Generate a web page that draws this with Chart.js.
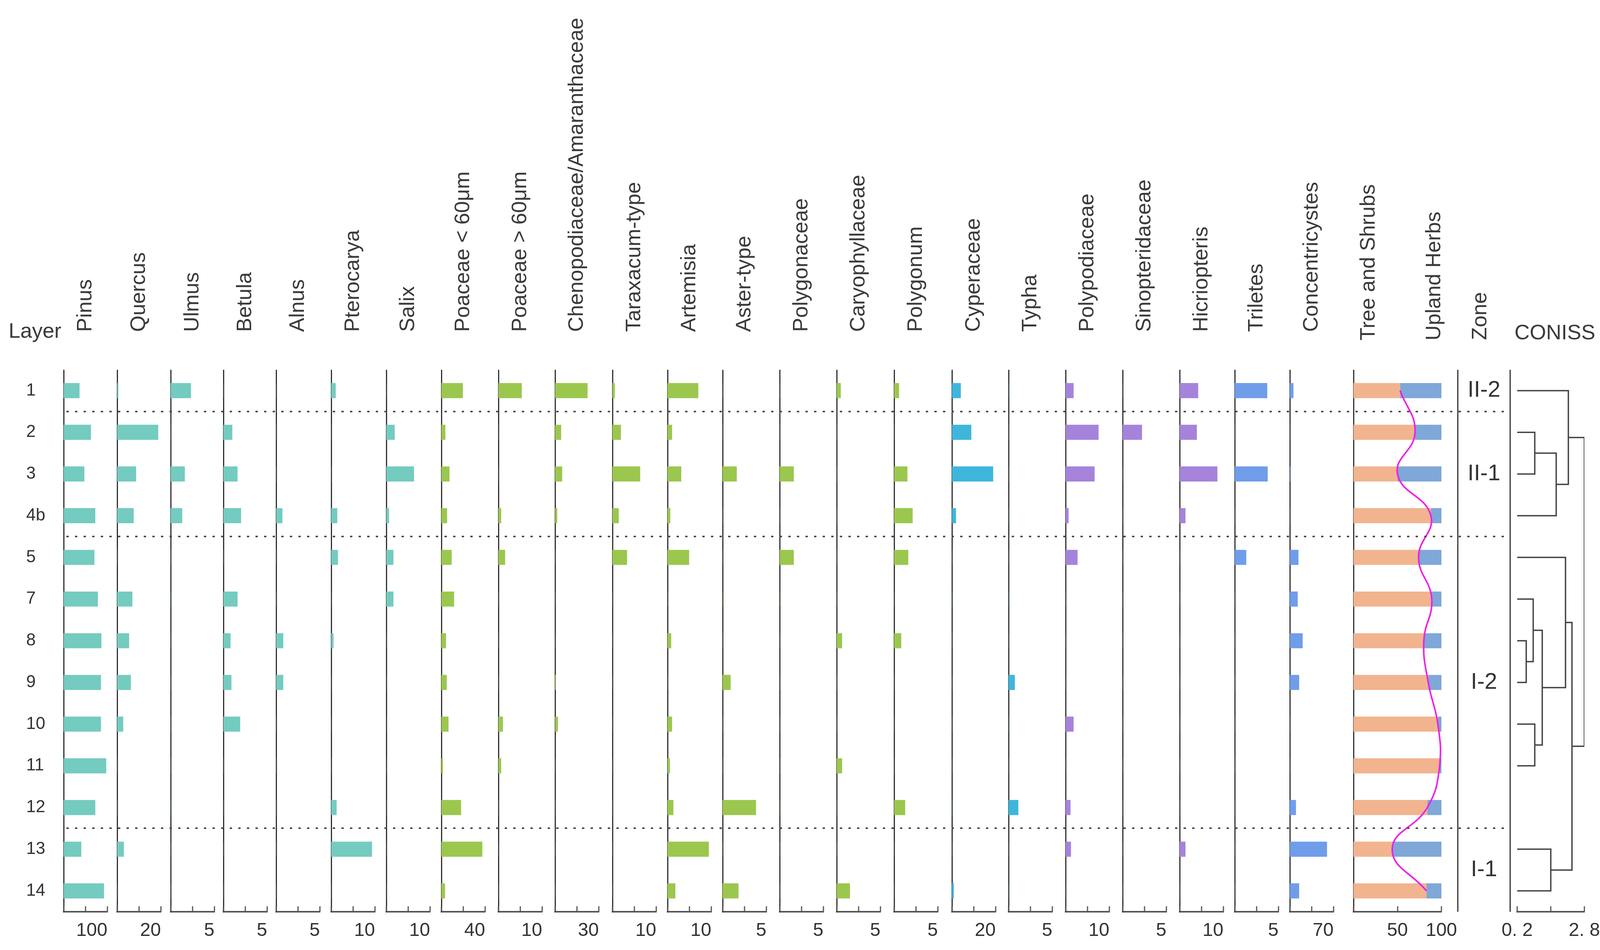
<!DOCTYPE html>
<html>
<head>
<meta charset="utf-8">
<title>Pollen diagram</title>
<script src="https://cdn.jsdelivr.net/npm/chart.js@4.4.1/dist/chart.umd.min.js"></script>
<style>
  html, body { margin: 0; padding: 0; background: #fff; overflow: hidden; }
  #wrap { position: relative; width: 4117px; height: 2433px; overflow: hidden;
          font-family: "Liberation Sans", Arial, sans-serif; color: #3a3a3a; }
  .box { position: absolute; }
  .vlab { position: absolute; white-space: nowrap; font-size: 54px; line-height: 54px;
          transform: rotate(-90deg); transform-origin: left top; }
  .hlab { position: absolute; white-space: nowrap; font-size: 54px; line-height: 54px; }
</style>
</head>
<body>
<div id="wrap"></div>
<script>
// layers, top to bottom
const layers = ["1", "2", "3", "4b", "5", "7", "8", "9", "10", "11", "12", "13", "14"];

const taxa = ["Pinus", "Quercus", "Ulmus", "Betula", "Alnus", "Pterocarya", "Salix",
  "Poaceae < 60μm", "Poaceae > 60μm", "Chenopodiaceae/Amaranthaceae", "Taraxacum-type",
  "Artemisia", "Aster-type", "Polygonaceae", "Caryophyllaceae", "Polygonum",
  "Cyperaceae", "Typha", "Polypodiaceae", "Sinopteridaceae", "Hicriopteris",
  "Triletes", "Concentricystes"];
const axisMax = [100, 20, 5, 5, 5, 10, 10, 40, 10, 30, 10, 10, 5, 5, 5, 5, 20, 5, 10, 5, 10, 5, 70];
const taxonGroup = ["tree", "tree", "tree", "tree", "tree", "tree", "tree",
  "herb", "herb", "herb", "herb", "herb", "herb", "herb", "herb", "herb",
  "wet", "wet", "fern", "fern", "fern", "other", "other"];

// percentages per layer
const pinus        = [36, 62, 47, 72, 70, 78, 86, 85, 85, 97, 72, 40, 92];
const quercus      = [0.5, 18.7, 8.6, 7.5, 0, 6.9, 5.4, 6.2, 2.7, 0, 0, 3.0, 0];
const ulmus        = [2.3, 0, 1.6, 1.3, 0, 0, 0, 0, 0, 0, 0, 0, 0];
const betula       = [0, 1.0, 1.6, 2.0, 0, 1.6, 0.8, 0.9, 1.9, 0, 0, 0, 0];
const alnus        = [0, 0, 0, 0.7, 0, 0, 0.8, 0.8, 0, 0, 0, 0, 0];
const pterocarya   = [1.0, 0, 0, 1.35, 1.5, 0, 0.5, 0, 0, 0, 1.2, 9.3, 0];
const salix        = [0, 1.9, 6.3, 0.6, 1.6, 1.6, 0, 0, 0, 0, 0, 0, 0];
const poaceaeSmall = [19.5, 3.5, 7.3, 5.1, 9.3, 11.5, 4.1, 4.8, 6.4, 1.3, 17.9, 37.3, 3.2];
const poaceaeLarge = [5.3, 0, 0, 0.6, 1.5, 0, 0, 0, 1.0, 0.6, 0, 0, 0];
const chenopod     = [22.2, 4.1, 4.8, 1.4, 0, 0, 0, 0.4, 1.9, 0, 0, 0, 0];
const taraxacum    = [0.5, 1.9, 6.3, 1.4, 3.3, 0, 0, 0, 0, 0, 0, 0, 0];
const artemisia    = [7.0, 1.0, 3.1, 0.6, 4.9, 0, 0.8, 0, 1.0, 0.5, 1.3, 9.4, 1.75];
const aster        = [0, 0, 1.6, 0, 0, 0, 0, 0.9, 0, 0, 3.8, 0, 1.8];
const polygonaceae = [0, 0, 1.6, 0, 1.6, 0, 0, 0, 0, 0, 0, 0, 0];
const caryophyll   = [0.45, 0, 0, 0, 0, 0, 0.6, 0, 0, 0.6, 0, 0, 1.5];
const polygonum    = [0.55, 0, 1.5, 2.1, 1.6, 0, 0.8, 0, 0, 0, 1.25, 0, 0];
const cyperaceae   = [4.0, 8.8, 18.8, 1.8, 0, 0, 0, 0, 0, 0, 0, 0, 0.8];
const typha        = [0, 0, 0, 0, 0, 0, 0, 0.7, 0, 0, 1.1, 0, 0];
const polypodiac   = [1.8, 7.5, 6.6, 0.65, 2.7, 0, 0, 0, 1.8, 0, 1.1, 1.2, 0];
const sinopterid   = [0, 2.2, 0, 0, 0, 0, 0, 0, 0, 0, 0, 0, 0];
const hicriopteris = [4.2, 3.9, 8.6, 1.3, 0, 0, 0, 0, 0, 0, 0, 1.3, 0];
const triletes     = [3.7, 0, 3.75, 0, 1.3, 0, 0, 0, 0, 0, 0, 0, 0];
const concentri    = [5.6, 0, 0.5, 0, 13.6, 12.4, 20.3, 14.7, 0, 0, 9.6, 59.3, 14.7];

const values = [pinus, quercus, ulmus, betula, alnus, pterocarya, salix,
  poaceaeSmall, poaceaeLarge, chenopod, taraxacum, artemisia, aster, polygonaceae,
  caryophyll, polygonum, cyperaceae, typha, polypodiac, sinopterid, hicriopteris,
  triletes, concentri];

// summary panel
const treeShrubs  = [53, 70, 50, 88, 74, 89, 80, 85, 96, 98, 84, 44, 83];
const uplandHerbs = [47, 30, 50, 12, 26, 11, 20, 15, 4, 2, 16, 56, 17];

// zones (number of layers in each, top to bottom)
const zoneNames = ["II-2", "II-1", "I-2", "I-1"];
const zoneRows  = [1, 3, 7, 2];

// CONISS merges: left member, right member, dissimilarity
const conissLeft   = ["2", "n0", "1", "8", "7", "10", "n4", "5", "13", "n8", "n2"];
const conissRight  = ["3", "4b", "n1", "9", "n3", "11", "n5", "n6", "14", "n7", "n9"];
const conissHeight = [0.88, 1.71, 2.18, 0.55, 0.82, 0.88, 1.17, 2.07, 1.50, 2.32, 2.8];
const conissTicks  = [0.2, 1.5, 2.8];
const conissTickLabels = ["0. 2", "", "2. 8"];

// ---------- layout ----------
const FONT = "'Liberation Sans', Arial, sans-serif";
Chart.defaults.font.family = FONT;
Chart.defaults.color = '#333';

const COL = { tree: '#74CBC0', herb: '#9BC74E', wet: '#3EB6DB', fern: '#A683DB', other: '#6F9DEA' };
const TOP = 947, AREA_H = 1388, AXIS_H = 95, PAD = 12;
const panelX = [163, 300, 437, 572, 707, 848, 989, 1130, 1276, 1421, 1568, 1709, 1850,
  1996, 2142, 2289, 2437, 2582, 2728, 2874, 3020, 3161, 3302];
const PANEL_W = 112;
const TREE_X = 3465, TREE_W = 225;
const CONISS_X = 3884, CONISS_W = 172;
const DOT_X0 = 170, DOT_X1 = 3866, ZONE_X0 = 3732, ZONE_X1 = 3866;

const wrap = document.getElementById('wrap');

function addCanvas(left, width, height, z) {
  const d = document.createElement('div');
  d.className = 'box';
  d.style.left = left + 'px';
  d.style.top = TOP + 'px';
  d.style.width = width + 'px';
  d.style.height = (height || AREA_H + AXIS_H) + 'px';
  if (z) { d.style.zIndex = z; d.style.pointerEvents = 'none'; }
  const c = document.createElement('canvas');
  d.appendChild(c);
  wrap.appendChild(d);
  return c;
}

function vLabel(text, cx, bottom) {
  const el = document.createElement('div');
  el.className = 'vlab';
  el.textContent = text;
  el.style.left = (cx - 27) + 'px';
  el.style.top = bottom + 'px';
  wrap.appendChild(el);
}

function hLabel(text, left, top) {
  const el = document.createElement('div');
  el.className = 'hlab';
  el.textContent = text;
  el.style.left = left + 'px';
  el.style.top = top + 'px';
  wrap.appendChild(el);
}

// small tick marks pointing up from the x axis
const upTicks = {
  id: 'upTicks',
  afterDraw(chart) {
    const s = chart.scales.x;
    const ctx = chart.ctx;
    ctx.save();
    ctx.strokeStyle = '#555';
    ctx.lineWidth = 3;
    s.ticks.forEach(t => {
      const px = Math.round(s.getPixelForValue(t.value));
      ctx.beginPath();
      ctx.moveTo(px, s.top);
      ctx.lineTo(px, s.top - 14);
      ctx.stroke();
    });
    ctx.restore();
  }
};

function valueAxis(min, max, tickVals, labels, align) {
  return {
    type: 'linear', min: min, max: max, position: 'bottom',
    afterBuildTicks: s => { s.ticks = tickVals.map(v => ({ value: v })); },
    afterFit: s => { s.height = AXIS_H; s.paddingLeft = 0; s.paddingRight = 0; },
    grid: { display: false, drawTicks: false },
    border: { display: true, color: '#555', width: 4 },
    ticks: {
      align: align, padding: 20, maxRotation: 0, minRotation: 0, autoSkip: false,
      color: '#333', font: { size: 48 },
      callback: (v, i) => labels[i]
    }
  };
}

function layerAxis(width, showLabels) {
  return {
    type: 'category', offset: true, stacked: true,
    afterFit: s => { s.width = width; s.paddingTop = 0; s.paddingBottom = 0; },
    grid: { display: false, drawTicks: false },
    border: { display: true, color: '#2f2f2f', width: 3 },
    ticks: { display: showLabels, crossAlign: 'far', padding: 0, autoSkip: false,
             color: '#333', font: { size: 44 } }
  };
}

function baseOptions(padL, padR, scales) {
  return {
    indexAxis: 'y', responsive: true, maintainAspectRatio: false, animation: false,
    layout: { padding: { left: padL, right: padR, top: 0, bottom: 0 } },
    plugins: { legend: { display: false }, tooltip: { enabled: false } },
    scales: scales
  };
}

// ---------- taxon panels ----------
taxa.forEach((name, i) => {
  const first = i === 0;
  const left = first ? 0 : panelX[i] - PAD;
  const padL = first ? 67 : PAD;
  const yW = first ? panelX[0] - 67 : 0;
  const width = panelX[i] - left + PANEL_W + PAD;
  const max = axisMax[i];
  new Chart(addCanvas(left, width), {
    type: 'bar',
    data: {
      labels: layers,
      datasets: [{ label: name, data: values[i], backgroundColor: COL[taxonGroup[i]],
                   barThickness: 38, borderWidth: 0 }]
    },
    options: baseOptions(padL, PAD, {
      x: valueAxis(0, max, [0, max / 2, max], ['', '', String(max)], 'end'),
      y: layerAxis(yW, first)
    }),
    plugins: [upTicks]
  });
  vLabel(name, panelX[i] + 52, 850);
});

// ---------- trees & shrubs / upland herbs ----------
const treeX = valueAxis(0, 100, [0, 50, 100], ['', '50', '100'], 'center');
treeX.stacked = true;
new Chart(addCanvas(TREE_X - PAD, TREE_W + PAD + 60), {
  type: 'bar',
  data: {
    labels: layers,
    datasets: [
      { type: 'line', label: 'Tree and Shrubs curve', data: treeShrubs, borderColor: '#F01EE6',
        borderWidth: 4, pointRadius: 0, tension: 0.45, fill: false, order: -1 },
      { label: 'Tree and Shrubs', data: treeShrubs, backgroundColor: '#F1B48E', barThickness: 38 },
      { label: 'Upland Herbs', data: uplandHerbs, backgroundColor: '#7FA7D8', barThickness: 38 }
    ]
  },
  options: baseOptions(PAD, 60, { x: treeX, y: layerAxis(0, false) }),
  plugins: [upTicks]
});
vLabel('Tree and Shrubs', 3500, 872);
vLabel('Upland Herbs', 3668, 872);

// ---------- CONISS dendrogram ----------
const node = {};
layers.forEach((l, i) => { node[l] = { y: i, h: conissTicks[0] }; });
const segs = [];
conissLeft.forEach((a, k) => {
  const A = node[a], B = node[conissRight[k]], h = conissHeight[k];
  segs.push([{ x: A.h, y: A.y }, { x: h, y: A.y }, { x: h, y: B.y }, { x: B.h, y: B.y }]);
  node['n' + k] = { y: (A.y + B.y) / 2, h: h };
});

new Chart(addCanvas(CONISS_X - 50, CONISS_W + 100), {
  type: 'scatter',
  data: {
    datasets: segs.map(s => ({ data: s, showLine: true, borderColor: '#444', borderWidth: 3.5,
                               pointRadius: 0, fill: false }))
  },
  options: {
    responsive: true, maintainAspectRatio: false, animation: false,
    layout: { padding: { left: 50, right: 50, top: 0, bottom: 0 } },
    plugins: { legend: { display: false }, tooltip: { enabled: false } },
    scales: {
      x: valueAxis(conissTicks[0], conissTicks[2], conissTicks, conissTickLabels, 'center'),
      y: { type: 'linear', min: -0.5, max: layers.length - 0.5, reverse: true, display: false }
    }
  },
  plugins: [upTicks]
});

// ---------- zone boundaries, zone column ----------
const framePlugin = {
  id: 'frame',
  afterDraw(chart) {
    const ctx = chart.ctx, x = chart.scales.x, y = chart.scales.y;
    ctx.save();
    ctx.strokeStyle = '#4a4a4a';
    ctx.lineWidth = 4;
    ctx.setLineDash([6, 16]);
    let row = 0;
    zoneRows.forEach((n, k) => {
      row += n;
      if (k === zoneRows.length - 1) return;
      const py = Math.round(y.getPixelForValue(row - 0.5));
      ctx.beginPath();
      ctx.moveTo(x.getPixelForValue(DOT_X0), py);
      ctx.lineTo(x.getPixelForValue(DOT_X1), py);
      ctx.stroke();
    });
    ctx.setLineDash([]);
    ctx.strokeStyle = '#2f2f2f';
    ctx.lineWidth = 3;
    [ZONE_X0, ZONE_X1].forEach(v => {
      const px = Math.round(x.getPixelForValue(v));
      ctx.beginPath();
      ctx.moveTo(px, y.getPixelForValue(-0.5));
      ctx.lineTo(px, y.getPixelForValue(layers.length - 0.5));
      ctx.stroke();
    });
    ctx.fillStyle = '#333';
    ctx.font = '58px ' + FONT;
    ctx.textAlign = 'center';
    ctx.textBaseline = 'middle';
    row = 0;
    zoneRows.forEach((n, k) => {
      const mid = row + (n - 1) / 2;
      row += n;
      ctx.fillText(zoneNames[k], x.getPixelForValue((ZONE_X0 + ZONE_X1) / 2), y.getPixelForValue(mid));
    });
    ctx.restore();
  }
};

new Chart(addCanvas(0, 4117, AREA_H, 3), {
  type: 'scatter',
  data: { datasets: [] },
  options: {
    responsive: true, maintainAspectRatio: false, animation: false,
    layout: { padding: 0 },
    plugins: { legend: { display: false }, tooltip: { enabled: false } },
    scales: {
      x: { type: 'linear', min: 0, max: 4117, display: false },
      y: { type: 'linear', min: -0.5, max: layers.length - 0.5, reverse: true, display: false }
    }
  },
  plugins: [framePlugin]
});

// ---------- header texts ----------
vLabel('Zone', 3786, 871);
hLabel('Layer', 22, 819);
hLabel('CONISS', 3877, 823);
</script>
</body>
</html>
